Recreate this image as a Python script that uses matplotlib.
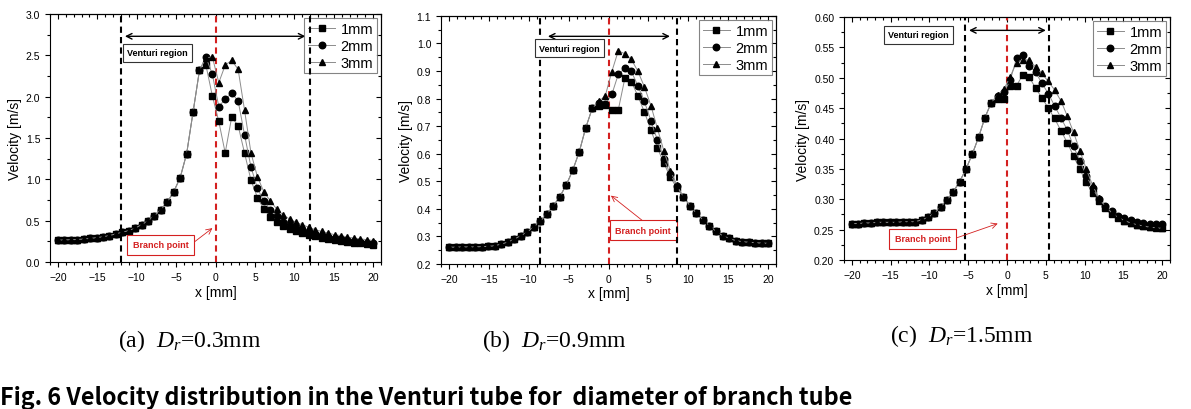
import matplotlib
matplotlib.use("Agg")
import matplotlib.pyplot as plt
from matplotlib.ticker import MultipleLocator, AutoMinorLocator

plt.rcParams['font.family'] = ['Liberation Sans', 'DejaVu Sans']
plt.rcParams['mathtext.fontset'] = 'custom'
plt.rcParams['mathtext.rm'] = 'Liberation Serif'
plt.rcParams['mathtext.it'] = 'Liberation Serif:italic'

# x grid of the simulation points [mm]
x_mm = [-20.00, -19.18, -18.37, -17.55, -16.73, -15.92, -15.10, -14.29, -13.47, -12.65,
        -11.84, -11.02, -10.20, -9.39, -8.57, -7.76, -6.94, -6.12, -5.31, -4.49,
        -3.67, -2.86, -2.04, -1.22, -0.41, 0.41, 1.22, 2.04, 2.86, 3.67,
        4.49, 5.31, 6.12, 6.94, 7.76, 8.57, 9.39, 10.20, 11.02, 11.84,
        12.65, 13.47, 14.29, 15.10, 15.92, 16.73, 17.55, 18.37, 19.18, 20.00]

# (a) Dr = 0.3mm
a_left = [0.265, 0.267, 0.27, 0.272, 0.278, 0.285, 0.295, 0.305, 0.32, 0.34,
          0.36, 0.38, 0.41, 0.45, 0.50, 0.56, 0.635, 0.725, 0.85, 1.02,
          1.31, 1.81, 2.32]
a_1mm = a_left + [2.38, 2.01, 1.70, 1.32, 1.75, 1.65, 1.32, 0.99, 0.78, 0.64, 0.55, 0.48, 0.43,
                  0.40, 0.37, 0.35, 0.33, 0.31, 0.295, 0.28, 0.27, 0.255, 0.245, 0.235, 0.225, 0.215, 0.205]
a_2mm = a_left + [2.48, 2.27, 1.88, 1.97, 2.04, 1.95, 1.54, 1.15, 0.89, 0.74, 0.63, 0.56, 0.49,
                  0.45, 0.41, 0.39, 0.36, 0.34, 0.32, 0.30, 0.29, 0.275, 0.265, 0.255, 0.245, 0.235, 0.225]
a_3mm = a_left + [2.47, 2.48, 2.17, 2.38, 2.44, 2.33, 1.84, 1.32, 1.03, 0.85, 0.74, 0.64, 0.57,
                  0.52, 0.48, 0.45, 0.42, 0.39, 0.37, 0.35, 0.33, 0.32, 0.30, 0.29, 0.28, 0.27, 0.26]

# (b) Dr = 0.9mm
b_left = [0.261, 0.261, 0.262, 0.262, 0.262, 0.263, 0.264, 0.266, 0.272, 0.279,
          0.29, 0.302, 0.316, 0.334, 0.355, 0.38, 0.41, 0.444, 0.486, 0.54,
          0.607, 0.694, 0.765]
b_right = [0.443, 0.412, 0.384, 0.36, 0.339, 0.318, 0.303, 0.293, 0.285, 0.281, 0.279, 0.277, 0.276, 0.275]
b_1mm = b_left + [0.775, 0.777, 0.757, 0.759, 0.873, 0.862, 0.81, 0.752, 0.686, 0.622, 0.565, 0.515, 0.475] + b_right
b_2mm = b_left + [0.785, 0.78, 0.815, 0.888, 0.91, 0.899, 0.847, 0.79, 0.72, 0.65, 0.58, 0.525, 0.482] + b_right
b_3mm = b_left + [0.79, 0.81, 0.898, 0.973, 0.963, 0.942, 0.90, 0.843, 0.775, 0.692, 0.61, 0.538, 0.487] + b_right

# (c) Dr = 1.5mm
c_left = [0.26, 0.26, 0.261, 0.261, 0.262, 0.262, 0.262, 0.262, 0.263, 0.263,
          0.263, 0.266, 0.27, 0.277, 0.287, 0.298, 0.312, 0.329, 0.349, 0.374,
          0.402, 0.434, 0.459]
c_1mm = c_left + [0.465, 0.465, 0.486, 0.487, 0.505, 0.501, 0.483, 0.467, 0.45, 0.433, 0.413, 0.393, 0.371,
                  0.349, 0.328, 0.31, 0.297, 0.286, 0.276, 0.269, 0.264, 0.261, 0.258, 0.256, 0.255, 0.254, 0.253]
c_2mm = c_left + [0.47, 0.476, 0.496, 0.532, 0.537, 0.52, 0.509, 0.491, 0.474, 0.454, 0.434, 0.414, 0.387,
                  0.363, 0.339, 0.319, 0.30, 0.289, 0.28, 0.273, 0.269, 0.266, 0.263, 0.261, 0.26, 0.259, 0.259]
c_3mm = c_left + [0.472, 0.481, 0.502, 0.525, 0.53, 0.529, 0.518, 0.507, 0.494, 0.48, 0.462, 0.437, 0.41,
                  0.38, 0.35, 0.323, 0.302, 0.289, 0.278, 0.27, 0.265, 0.261, 0.258, 0.256, 0.254, 0.253, 0.252]

series_labels = ['1mm', '2mm', '3mm']
markers = ['s', 'o', '^']
captions = ['(a)  $D_r$=0.3mm', '(b)  $D_r$=0.9mm', '(c)  $D_r$=1.5mm']

panels = [
    dict(rect=[0.042, 0.3585, 0.278, 0.605], data=[a_1mm, a_2mm, a_3mm], ylim=(0, 3.0), ymaj=0.5, yfmt='%.1f',
         venturi=12.0, arrow_y=2.73, arrow_x=(-11.5, 11.4),
         vbox=(-11.2, 2.53), bbox_pt=(-7.0, 0.21), arrow_from=(-3.0, 0.22), arrow_to=(-0.4, 0.41),
         cap=0.099, cap_y=0.168),
    dict(rect=[0.3703, 0.3537, 0.2813, 0.605], data=[b_1mm, b_2mm, b_3mm], ylim=(0.2, 1.1), ymaj=0.1, yfmt='%.1f',
         venturi=8.6, arrow_y=1.026, arrow_x=(-7.6, 7.7),
         vbox=(-8.7, 0.982), bbox_pt=(4.35, 0.322), arrow_from=(4.4, 0.354), arrow_to=(0.3, 0.448),
         cap=0.405, cap_y=0.168),
    dict(rect=[0.7087, 0.3634, 0.2737, 0.5927], data=[c_1mm, c_2mm, c_3mm], ylim=(0.2, 0.6), ymaj=0.05, yfmt='%.2f',
         venturi=5.45, arrow_y=0.578, arrow_x=(-4.9, 5.0),
         vbox=(-15.3, 0.571), bbox_pt=(-10.9, 0.235), arrow_from=(-6.6, 0.236), arrow_to=(-1.2, 0.26),
         cap=0.747, cap_y=0.18),
]

fig = plt.figure(figsize=(11.91, 4.10), dpi=100)

for k, p in enumerate(panels):
    ax = fig.add_axes(p['rect'])
    for ys, m, lab in zip(p['data'], markers, series_labels):
        ax.plot(x_mm, ys, color='#8c8c8c', linewidth=0.7, marker=m, markersize=4.7,
                markerfacecolor='black', markeredgecolor='black', label=lab, zorder=3)

    ax.axvline(-p['venturi'], color='black', linestyle='--', linewidth=1.5, dashes=(3, 2), zorder=2)
    ax.axvline(p['venturi'], color='black', linestyle='--', linewidth=1.5, dashes=(3, 2), zorder=6)
    ax.axvline(0, color='#d42020', linestyle='--', linewidth=1.5, dashes=(3, 2), zorder=2)

    ax.annotate('', xy=(p['arrow_x'][1], p['arrow_y']), xytext=(p['arrow_x'][0], p['arrow_y']),
                arrowprops=dict(arrowstyle='<->', color='black', lw=1.0, shrinkA=0, shrinkB=0))
    ax.text(p['vbox'][0], p['vbox'][1], 'Venturi region', fontsize=6.5, fontweight='bold',
            ha='left', va='center', zorder=5,
            bbox=dict(boxstyle='square,pad=0.5', facecolor='white', edgecolor='#333333', linewidth=0.8))
    ax.text(p['bbox_pt'][0], p['bbox_pt'][1], 'Branch point', fontsize=6.5, fontweight='bold',
            color='#d42020', ha='center', va='center', zorder=5,
            bbox=dict(boxstyle='square,pad=0.6', facecolor='white', edgecolor='#d42020', linewidth=0.8))
    ax.annotate('', xy=p['arrow_to'], xytext=p['arrow_from'],
                arrowprops=dict(arrowstyle='->', color='#d42020', lw=0.6, shrinkA=0, shrinkB=0))

    ax.set_xlim(-21, 21)
    ax.set_ylim(*p['ylim'])
    ax.xaxis.set_major_locator(MultipleLocator(5))
    ax.xaxis.set_minor_locator(MultipleLocator(1))
    ax.yaxis.set_major_locator(MultipleLocator(p['ymaj']))
    ax.yaxis.set_minor_locator(AutoMinorLocator(2))
    ax.yaxis.set_major_formatter(plt.FormatStrFormatter(p['yfmt']))
    ax.tick_params(which='both', direction='out', labelsize=7.5, width=0.8)
    ax.tick_params(which='major', length=3.5)
    ax.tick_params(which='minor', length=2)
    for s in ax.spines.values():
        s.set_linewidth(0.8)

    top = ax.secondary_xaxis('top')
    top.xaxis.set_major_locator(MultipleLocator(5))
    top.xaxis.set_minor_locator(MultipleLocator(1))
    top.tick_params(which='both', direction='in', labeltop=False, width=0.8)
    top.tick_params(which='major', length=3.5)
    top.tick_params(which='minor', length=2)
    right = ax.secondary_yaxis('right')
    right.yaxis.set_major_locator(MultipleLocator(p['ymaj']))
    right.yaxis.set_minor_locator(AutoMinorLocator(2))
    right.tick_params(which='both', direction='in', labelright=False, width=0.8)
    right.tick_params(which='major', length=3.5)
    right.tick_params(which='minor', length=2)

    ax.set_xlabel('x [mm]', fontsize=10, labelpad=2)
    ax.set_ylabel('Velocity [m/s]', fontsize=10, labelpad=3)

    leg = ax.legend(loc='upper right', fontsize=10.5, frameon=True, fancybox=False,
                    borderaxespad=0.3, handlelength=1.9, handletextpad=0.35,
                    borderpad=0.25, labelspacing=0.2)
    leg.get_frame().set_edgecolor('#666666')
    leg.get_frame().set_linewidth(0.8)

    fig.text(p['cap'], p['cap_y'], captions[k], fontsize=17,
             family='Liberation Serif', ha='left', va='center')

fig.text(0.0, 0.03, 'Fig. 6 Velocity distribution in the Venturi tube for  diameter of branch tube',
         fontsize=16.8, fontweight='bold', family=['Noto Sans CJK KR', 'DejaVu Sans'],
         ha='left', va='center')

fig.savefig('out.png', dpi=100)
